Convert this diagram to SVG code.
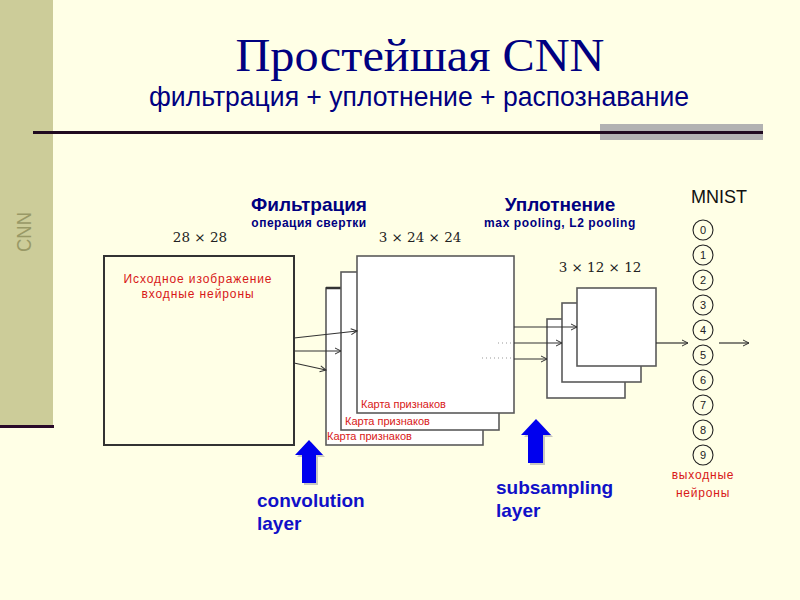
<svg xmlns="http://www.w3.org/2000/svg" width="800" height="600" viewBox="0 0 800 600">
<defs>
<style>
.sans{font-family:"Liberation Sans",Arial,"DejaVu Sans",sans-serif}
.serif{font-family:"Liberation Serif","Times New Roman",serif}
.red{fill:#d81818}
.navy{fill:#000080}
.blue{fill:#1010c8}
.dim{font-family:"DejaVu Serif","Liberation Serif",serif;font-size:13.5px;fill:#222}
.map{fill:#ffffff;stroke:#5a5a5a;stroke-width:1.6}
.conn{stroke:#333;stroke-width:1.2;fill:none;marker-end:url(#ah)}
.circ{fill:none;stroke:#222;stroke-width:1.1}
.dig{font-family:"Liberation Sans",Arial,sans-serif;font-size:11px;fill:#222;text-anchor:middle}
.lbl{font-family:"Liberation Sans",Arial,sans-serif;font-size:11px;fill:#d81818}
</style>
<marker id="ah" markerWidth="8" markerHeight="8" refX="7" refY="4" orient="auto" markerUnits="userSpaceOnUse">
<path d="M1,1 L7,4 L1,7" fill="none" stroke="#333" stroke-width="1"/>
</marker>
</defs>
<rect x="0" y="0" width="800" height="600" fill="#ffffe6"/>
<rect x="0" y="0" width="53" height="426" fill="#cccc99"/>
<rect x="0" y="425" width="54" height="3" fill="#2a0a2a"/>
<text class="sans" transform="translate(31,252) rotate(-90)" font-size="21" fill="#999966" textLength="40" lengthAdjust="spacingAndGlyphs">CNN</text>

<text class="serif navy" x="420" y="71" font-size="47" text-anchor="middle" textLength="369" lengthAdjust="spacingAndGlyphs">Простейшая CNN</text>
<text class="sans navy" x="419" y="106" font-size="27" text-anchor="middle" textLength="540" lengthAdjust="spacingAndGlyphs">фильтрация + уплотнение + распознавание</text>
<rect x="600" y="124" width="163" height="16" fill="#b2b2b2"/>
<rect x="33" y="131" width="730" height="3" fill="#200a20"/>

<g id="headings">
<text class="sans navy" x="309" y="211" font-size="19" font-weight="bold" text-anchor="middle">Фильтрация</text>
<text class="sans navy" x="309" y="227" font-size="12" font-weight="bold" text-anchor="middle" letter-spacing="0.5">операция свертки</text>
<text class="sans navy" x="560" y="211" font-size="19" font-weight="bold" text-anchor="middle">Уплотнение</text>
<text class="sans navy" x="560" y="227" font-size="12" font-weight="bold" text-anchor="middle" letter-spacing="0.6">max pooling, L2 pooling</text>
<text class="dim" x="200" y="242" text-anchor="middle">28 × 28</text>
<text class="dim" x="420" y="242" text-anchor="middle">3 × 24 × 24</text>
<text class="dim" x="600" y="272" text-anchor="middle">3 × 12 × 12</text>
</g>

<g id="input">
<rect x="104" y="256" width="190" height="189" fill="none" stroke="#333" stroke-width="2"/>
<text class="sans red" x="198" y="283" font-size="12" text-anchor="middle" letter-spacing="0.9">Исходное изображение</text>
<text class="sans red" x="198" y="298" font-size="12" text-anchor="middle" letter-spacing="0.9">входные нейроны</text>
</g>

<g id="featuremaps">
<rect class="map" x="326" y="288" width="157" height="157"/>
<line x1="326" y1="288" x2="341" y2="288" stroke="#333" stroke-width="2.5"/>
<text class="lbl" x="327" y="440">Карта признаков</text>
<rect class="map" x="341" y="272" width="158" height="158"/>
<text class="lbl" x="345" y="425">Карта признаков</text>
<rect class="map" x="357" y="256" width="157" height="157"/>
<text class="lbl" x="361" y="408">Карта признаков</text>
<line x1="498" y1="343" x2="511" y2="343" stroke="#999" stroke-width="1" stroke-dasharray="1,3"/>
<line x1="482" y1="358" x2="511" y2="358" stroke="#999" stroke-width="1" stroke-dasharray="1,3"/>
</g>

<g id="poolmaps">
<rect class="map" x="547" y="319" width="78" height="79"/>
<rect class="map" x="562" y="303" width="79" height="79"/>
<rect class="map" x="577" y="288" width="79" height="78"/>
</g>

<g id="outputs">
<text class="sans" x="719" y="203" font-size="18" fill="#111" text-anchor="middle">MNIST</text>
<circle class="circ" cx="703" cy="230" r="10"/><text class="dig" x="703" y="234">0</text>
<circle class="circ" cx="703" cy="255" r="10"/><text class="dig" x="703" y="259">1</text>
<circle class="circ" cx="703" cy="280" r="10"/><text class="dig" x="703" y="284">2</text>
<circle class="circ" cx="703" cy="305" r="10"/><text class="dig" x="703" y="309">3</text>
<circle class="circ" cx="703" cy="330" r="10"/><text class="dig" x="703" y="334">4</text>
<circle class="circ" cx="703" cy="355" r="10"/><text class="dig" x="703" y="359">5</text>
<circle class="circ" cx="703" cy="380" r="10"/><text class="dig" x="703" y="384">6</text>
<circle class="circ" cx="703" cy="405" r="10"/><text class="dig" x="703" y="409">7</text>
<circle class="circ" cx="703" cy="430" r="10"/><text class="dig" x="703" y="434">8</text>
<circle class="circ" cx="703" cy="455" r="10"/><text class="dig" x="703" y="459">9</text>
<text class="sans red" x="703" y="479" font-size="12" text-anchor="middle" letter-spacing="0.8">выходные</text>
<text class="sans red" x="703" y="497" font-size="12" text-anchor="middle" letter-spacing="0.8">нейроны</text>
</g>

<g id="connectors">
<line class="conn" x1="294" y1="338" x2="357" y2="331"/>
<line class="conn" x1="294" y1="351" x2="341" y2="351"/>
<line class="conn" x1="294" y1="363" x2="326" y2="370"/>
<line class="conn" x1="514" y1="327" x2="577" y2="327" stroke-width="1.8" stroke="#666"/>
<line class="conn" x1="514" y1="343" x2="562" y2="343"/>
<line class="conn" x1="514" y1="359" x2="547" y2="359"/>
<line class="conn" x1="656" y1="343" x2="688" y2="343"/>
<line class="conn" x1="719" y1="343" x2="749" y2="343"/>
</g>

<g id="conv-arrow">
<polygon points="311,442 325,457 318,457 318,485 304,485 304,457 297,457" fill="#c8c8c0"/>
<polygon points="309,440 323,455 316,455 316,483 302,483 302,455 295,455" fill="#0000ee"/>
<text class="sans blue" x="257" y="507" font-size="19" font-weight="bold">convolution</text>
<text class="sans blue" x="257" y="530" font-size="19" font-weight="bold">layer</text>
</g>

<g id="sub-arrow">
<polygon points="538,421 553,437 545,437 545,465 530,465 530,437 524,437" fill="#c8c8c0"/>
<polygon points="536,419 551,435 543,435 543,463 528,463 528,435 521,435" fill="#0000ee"/>
<text class="sans blue" x="496" y="494" font-size="19" font-weight="bold">subsampling</text>
<text class="sans blue" x="496" y="517" font-size="19" font-weight="bold">layer</text>
</g>
</svg>
